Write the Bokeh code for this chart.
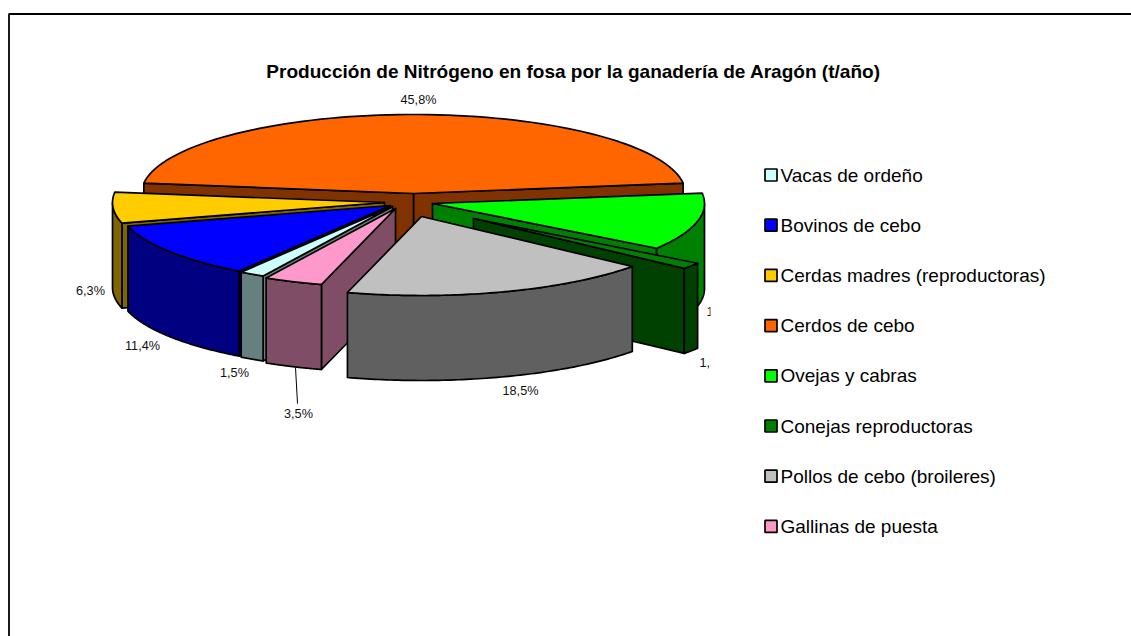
import numpy as np
from bokeh.plotting import figure
from bokeh.embed import file_html
from bokeh.resources import INLINE
from bokeh.core.properties import value

title = "Producción de Nitrógeno en fosa por la ganadería de Aragón (t/año)"
categories = ["Vacas de ordeño", "Bovinos de cebo", "Cerdas madres (reproductoras)", "Cerdos de cebo",
              "Ovejas y cabras", "Conejas reproductoras", "Pollos de cebo (broileres)", "Gallinas de puesta"]
percent = [1.5, 11.4, 6.3, 45.8, 11.7, 1.3, 18.5, 3.5]
top_colors = ["#CCFFFF", "#0000FF", "#FFCC00", "#FF6600", "#00FF00", "#008000", "#C0C0C0", "#FF99CC"]
side_colors = ["#668080", "#000080", "#806600", "#803300", "#008000", "#004000", "#606060", "#804D66"]

# layout of the exploded 3D pie, in page pixels
apex = {0: (392, 206), 1: (390, 205), 2: (384, 202), 3: (413, 193),
        4: (432, 203), 5: (473, 218), 6: (421, 216), 7: (395, 208)}
RX, RY, DEPTH = 272, 79, 85
START = 241.6
draw_order = [3, 4, 5, 2, 1, 0, 7, 6]
label_pos = {0: (234, 372), 1: (142, 345), 2: (90, 290), 3: (418, 99), 6: (520, 390), 7: (298, 413)}
clipped_label_pos = {4: (706, 311), 5: (699, 362)}

LEFT, TOP, W, H = 0, 0, 1131, 636
p = figure(width=W, height=H, x_range=(LEFT, LEFT + W), y_range=(TOP + H, TOP),
           output_backend="svg", toolbar_location=None, min_border=0)
p.axis.visible = False
p.grid.visible = False
p.outline_line_color = None
p.background_fill_color = "white"
p.border_fill_color = "white"

LW = 1.7

def pt(c, a):
    a = np.radians(a)
    return c[0] + RX * np.cos(a), c[1] - RY * np.sin(a)

def poly(xs, ys, color):
    p.patch(list(xs), list(ys), fill_color=color, line_color="black", line_width=LW, line_join="round")

def cut_face(c, a, color):
    x, y = pt(c, a)
    poly([c[0], x, x, c[0]], [c[1], y, y + DEPTH, c[1] + DEPTH], color)

angles = [START]
for v in percent:
    angles.append(angles[-1] - v * 3.6)

for i in draw_order:
    a0, a1, c = angles[i], angles[i + 1], apex[i]
    if np.cos(np.radians(a1)) > 0:
        cut_face(c, a1, side_colors[i])
    if np.cos(np.radians(a0)) < 0:
        cut_face(c, a0, side_colors[i])
    # outer wall: only the part of the arc turned to the viewer
    arc = np.linspace(a0, a1, 80)
    front = arc[np.sin(np.radians(arc)) < 0]
    if len(front) > 1:
        fx, fy = pt(c, front)
        poly(np.r_[fx, fx[::-1]], np.r_[fy, fy[::-1] + DEPTH], side_colors[i])
    ax, ay = pt(c, arc)
    poly(np.r_[c[0], ax], np.r_[c[1], ay], top_colors[i])

def pct(v):
    return f"{v:.1f}%".replace(".", ",")

font = value("Liberation Sans")
for i, (x, y) in label_pos.items():
    p.text([x], [y], text=[pct(percent[i])], text_font=font, text_font_size="12.7px",
           text_align="center", text_baseline="middle", text_color="#111111")
for i, (x, y) in clipped_label_pos.items():
    p.text([x], [y], text=[pct(percent[i])], text_font=font, text_font_size="12.7px",
           text_align="left", text_baseline="middle", text_color="#111111")
# the plot area of the original chart cuts these two labels off
p.quad(left=[710], right=[760], top=[290], bottom=[380], fill_color="white", line_color=None)

# leader line of the 3,5% label
p.line([295, 297], [367, 403], line_color="black", line_width=1)

p.text([573], [71], text=[title], text_font=font, text_font_style="bold", text_font_size="19.05px",
       text_align="center", text_baseline="middle", text_color="black")

for k, name in enumerate(categories):
    y = 174.5 + k * 50.2
    p.quad(left=[764.5], right=[776.5], top=[y - 6], bottom=[y + 6], fill_color=top_colors[k],
           line_color="black", line_width=1.7)
    p.text([780], [y], text=[name], text_font=font, text_font_size="19px", text_align="left",
           text_baseline="middle", text_color="black")

# chart border: left and top only are inside the window
p.line([8.5, 8.5, 1131], [636, 13.5, 13.5], line_color="black", line_width=1.8)

open("out.html", "w").write(file_html(p, INLINE))
